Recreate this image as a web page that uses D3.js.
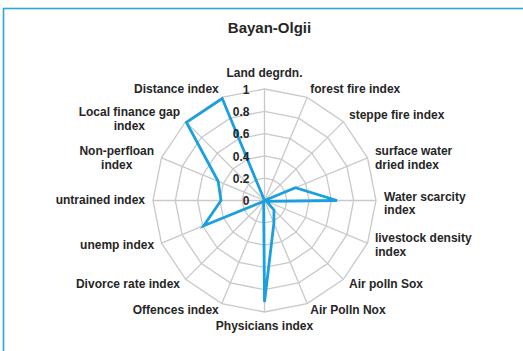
<!DOCTYPE html>
<html lang="en">
<head>
<meta charset="UTF-8">
<style>
  body { margin: 0; background: #fff; }
  text { font-family: "Liberation Sans", Arial, sans-serif; fill: #262626; }
  .lbl { font-size: 12px; font-weight: bold; }
  .tick { font-size: 12px; font-weight: bold; }
  .title { font-size: 15px; font-weight: bold; }
</style>
<script src="https://d3js.org/d3.v7.min.js"></script>
</head>
<body>
<svg id="chart" width="523" height="351"></svg>
<script>
// axis categories, clockwise from the top
const categories = [
  "Land degrdn.", "forest fire index", "steppe fire index", "surface water\ndried index",
  "Water scarcity\nindex", "livestock density\nindex", "Air polln Sox", "Air Polln Nox",
  "Physicians index", "Offences index", "Divorce rate index", "unemp index",
  "untrained index", "Non-perfloan\nindex", "Local finance gap\nindex", "Distance index"
];
const values = [0, 0, 0, 0.3, 0.65, 0.02, 0.12, 0.22, 0.91, 0.02, 0.01, 0.59, 0.39, 0.45, 0.99, 0.99];
const ticks = [0, 0.2, 0.4, 0.6, 0.8, 1];
const tickLabels = ["0", "0.2", "0.4", "0.6", "0.8", "1"];

const svg = d3.select("#chart");
const cx = 264.5, cy = 200.5, R = 111.5;

// frame (only top and left edges are visible)
svg.append("rect")
  .attr("x", 3.5).attr("y", 8.5)
  .attr("width", 600).attr("height", 400)
  .attr("fill", "none")
  .attr("stroke", "#2aa6df")
  .attr("stroke-width", 1.6);

svg.append("text").attr("class", "title")
  .attr("x", cx + 5).attr("y", 29)
  .attr("text-anchor", "middle").attr("dominant-baseline", "middle")
  .text("Bayan-Olgii");

const r = d3.scaleLinear().domain([0, 1]).range([0, R]);
const angle = d3.scaleLinear().domain([0, categories.length]).range([0, 2 * Math.PI]);
const px = (i, v) => cx + r(v) * Math.sin(angle(i));
const py = (i, v) => cy - r(v) * Math.cos(angle(i));

const g = svg.append("g");

// rings
ticks.filter(t => t > 0).forEach(t => {
  g.append("path")
    .attr("d", d3.line()(categories.map((c, i) => [px(i, t), py(i, t)])) + "Z")
    .attr("fill", "none")
    .attr("stroke", "#c9c9c9")
    .attr("stroke-width", 1.3);
});

// spokes
g.selectAll("line.spoke")
  .data(categories)
  .join("line")
  .attr("class", "spoke")
  .attr("x1", cx).attr("y1", cy)
  .attr("x2", (d, i) => px(i, 1))
  .attr("y2", (d, i) => py(i, 1))
  .attr("stroke", "#c9c9c9")
  .attr("stroke-width", 1.3);

// series
g.append("path")
  .attr("d", d3.line()(values.map((v, i) => [px(i, v), py(i, v)])) + "Z")
  .attr("fill", "none")
  .attr("stroke", "#1a9fdf")
  .attr("stroke-width", 2.8)
  .attr("stroke-linejoin", "miter");

// radial tick labels
svg.selectAll("text.tick")
  .data(ticks)
  .join("text")
  .attr("class", "tick")
  .attr("x", cx - 15)
  .attr("y", d => cy - r(d) + 1.5)
  .attr("text-anchor", "end")
  .attr("dominant-baseline", "middle")
  .text((d, i) => tickLabels[i]);

// category labels
const lineH = 13.5;
categories.forEach((c, i) => {
  const a = angle(i);
  const s = Math.sin(a), co = Math.cos(a);
  const lines = c.split("\n");
  const x = cx + (R + 8) * s;
  let y = cy - (R + 8) * co;
  if (Math.abs(s) < 0.1) y -= co * 7;
  if (lines.length > 1 && co > 0) y += 4;
  const t = svg.append("text").attr("class", "lbl").attr("dominant-baseline", "middle");
  const y0 = y - (lines.length - 1) * lineH / 2;
  lines.forEach((ln, k) => t.append("tspan").attr("y", y0 + k * lineH).text(ln));
  if (s > 0.1) {
    t.attr("text-anchor", "start").selectAll("tspan").attr("x", x);
  } else if (s < -0.1) {
    // left side: block right aligned, lines centred inside it
    let w = 0;
    t.selectAll("tspan").each(function () { w = Math.max(w, this.getComputedTextLength()); });
    t.attr("text-anchor", "middle").selectAll("tspan").attr("x", x - w / 2);
  } else {
    t.attr("text-anchor", "middle").selectAll("tspan").attr("x", x);
  }
});
</script>
</body>
</html>
